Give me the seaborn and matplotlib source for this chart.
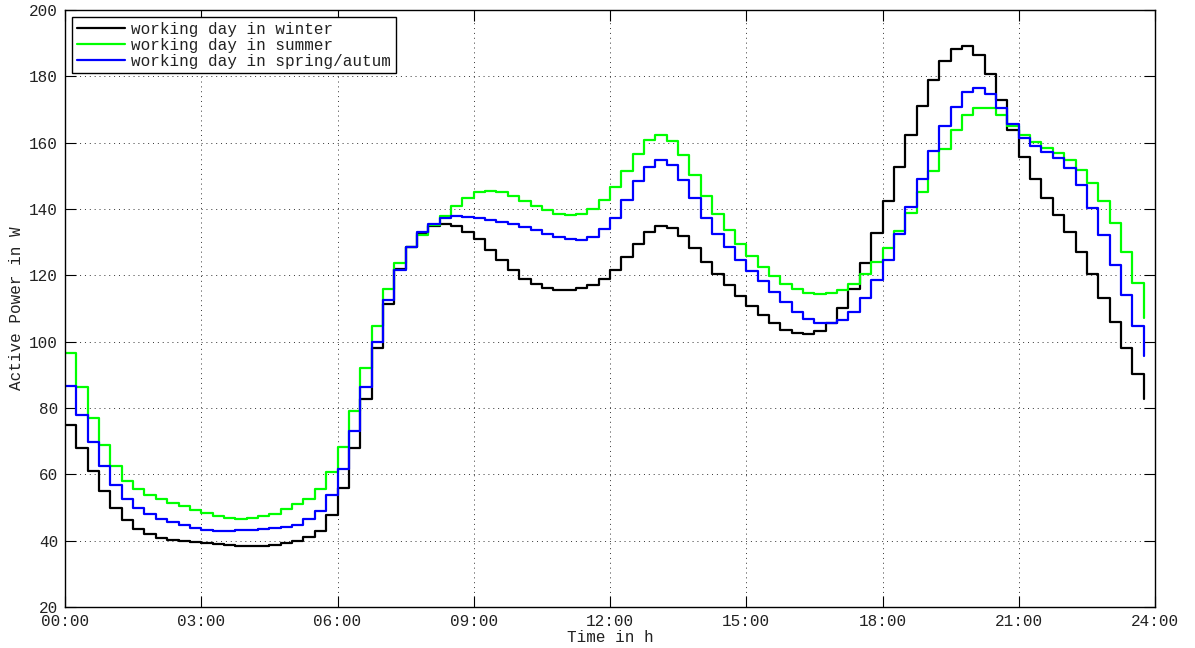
import matplotlib
matplotlib.use("Agg")
import matplotlib.pyplot as plt
import pandas as pd
import seaborn as sns

# ---- data (15-minute resolution, start of each interval in hours) ----
hours = [i * 0.25 for i in range(96)]

winter = [75.0, 67.8, 60.9, 54.9, 49.7, 46.2, 43.5, 41.9, 40.8, 40.2, 39.8, 39.5,
          39.2, 38.9, 38.7, 38.4, 38.4, 38.5, 38.8, 39.3, 40.0, 41.0, 43.0, 47.8,
          56.0, 68.0, 82.7, 98.1, 111.5, 121.8, 128.4, 132.9, 134.9, 135.5, 134.9, 133.1,
          130.9, 127.7, 124.7, 121.6, 119.0, 117.3, 116.2, 115.7, 115.7, 116.2, 117.1, 118.8,
          121.5, 125.5, 129.5, 133.0, 134.8, 134.3, 131.8, 128.1, 124.1, 120.3, 117.0, 113.9,
          110.7, 107.9, 105.7, 103.6, 102.7, 102.3, 103.1, 105.5, 110.1, 116.0, 123.7, 132.8,
          142.3, 152.6, 162.2, 171.2, 178.8, 184.6, 188.1, 189.0, 186.3, 180.8, 172.8, 163.9,
          155.7, 149.0, 143.3, 138.3, 133.1, 127.1, 120.5, 113.2, 105.8, 98.0, 90.2, 82.7]

summer = [96.6, 86.4, 77.0, 68.8, 62.5, 58.0, 55.5, 53.7, 52.6, 51.4, 50.4, 49.1,
          48.2, 47.5, 46.9, 46.6, 46.7, 47.4, 48.1, 49.4, 51.0, 52.7, 55.7, 60.7,
          68.3, 79.2, 92.0, 104.6, 115.8, 123.6, 128.4, 132.3, 135.1, 137.9, 140.8, 143.3,
          145.0, 145.4, 145.0, 143.9, 142.4, 140.8, 139.6, 138.6, 138.2, 138.6, 140.0, 142.6,
          146.5, 151.5, 156.7, 160.7, 162.3, 160.5, 156.3, 150.4, 144.0, 138.4, 133.8, 129.4,
          125.8, 122.5, 119.8, 117.3, 115.9, 114.6, 114.3, 114.6, 115.7, 117.4, 120.3, 124.0,
          128.2, 133.3, 138.9, 145.1, 151.5, 158.0, 163.9, 168.2, 170.6, 170.4, 168.2, 165.1,
          162.2, 160.2, 158.4, 156.9, 154.7, 151.9, 147.9, 142.5, 135.7, 127.1, 117.6, 107.2]

spring_autumn = [86.5, 77.9, 69.6, 62.5, 56.7, 52.5, 49.7, 48.0, 46.5, 45.5, 44.6, 43.8,
                 43.3, 43.0, 43.0, 43.1, 43.3, 43.4, 43.7, 44.2, 44.8, 46.4, 49.0, 53.7,
                 61.6, 73.0, 86.3, 100.0, 112.5, 121.6, 128.5, 133.0, 135.5, 137.4, 137.8, 137.6,
                 137.2, 136.6, 136.1, 135.5, 134.6, 133.6, 132.5, 131.6, 130.9, 130.8, 131.6, 133.9,
                 137.4, 142.6, 148.4, 152.7, 154.9, 153.4, 148.8, 143.2, 137.4, 132.6, 128.4, 124.7,
                 121.3, 118.3, 115.0, 112.0, 108.9, 106.9, 105.7, 105.5, 106.6, 109.0, 113.3, 118.5,
                 124.7, 132.4, 140.6, 149.1, 157.4, 164.9, 170.9, 175.2, 176.5, 174.8, 170.6, 165.7,
                 161.4, 159.0, 157.2, 155.4, 152.4, 147.1, 140.3, 132.2, 123.2, 114.2, 104.7, 95.7]

series_labels = ["working day in winter", "working day in summer", "working day in spring/autum"]
series_colors = ["#000000", "#00ff00", "#0000ff"]

x_ticks = list(range(0, 25, 3))
x_tick_labels = [f"{h:02d}:00" for h in x_ticks]
y_ticks = list(range(20, 201, 20))

# ---- style ----
sns.set_style("ticks")
plt.rcParams["font.family"] = ["Liberation Mono", "DejaVu Sans Mono"]
plt.rcParams["font.size"] = 11.5

df = pd.concat([
    pd.DataFrame({"hour": hours, "power": vals, "series": lab})
    for vals, lab in zip([winter, summer, spring_autumn], series_labels)
], ignore_index=True)

fig = plt.figure(figsize=(11.95, 6.48), dpi=100)
ax = fig.add_axes([65 / 1195, 41 / 648, 1090 / 1195, 597 / 648])

sns.lineplot(data=df, x="hour", y="power", hue="series", hue_order=series_labels,
             palette=dict(zip(series_labels, series_colors)), estimator=None,
             drawstyle="steps-post", linewidth=1.6, ax=ax)

ax.set_xlim(0, 24)
ax.set_ylim(20, 200)
ax.set_xticks(x_ticks)
ax.set_xticklabels(x_tick_labels)
ax.set_yticks(y_ticks)

ax.grid(True, color="#333333", linestyle=(0, (1, 4)), linewidth=0.7)
ax.set_axisbelow(True)
for s in ax.spines.values():
    s.set_visible(True)
    s.set_color("black")
    s.set_linewidth(1.0)
ax.tick_params(direction="in", length=8, width=0.8, top=True, right=True,
               labelsize=11.5, pad=5, colors="black", labelcolor="#222222")

ax.set_xlabel("Time in h", fontsize=11.5, labelpad=1, color="#222222")
ax.set_ylabel("Active Power in W", fontsize=11.5, labelpad=4, color="#222222")

handles, labels = ax.get_legend_handles_labels()
leg = ax.legend(handles, labels, loc="upper left", bbox_to_anchor=(0, 1),
                borderaxespad=0.45, fontsize=11.5, frameon=True, fancybox=False,
                edgecolor="black", framealpha=1, handlelength=3.0, handletextpad=0.4,
                labelspacing=0.05, borderpad=0.3)
leg.get_frame().set_linewidth(1.0)
for t in leg.get_texts():
    t.set_color("#222222")

fig.savefig("out.png", dpi=100)
